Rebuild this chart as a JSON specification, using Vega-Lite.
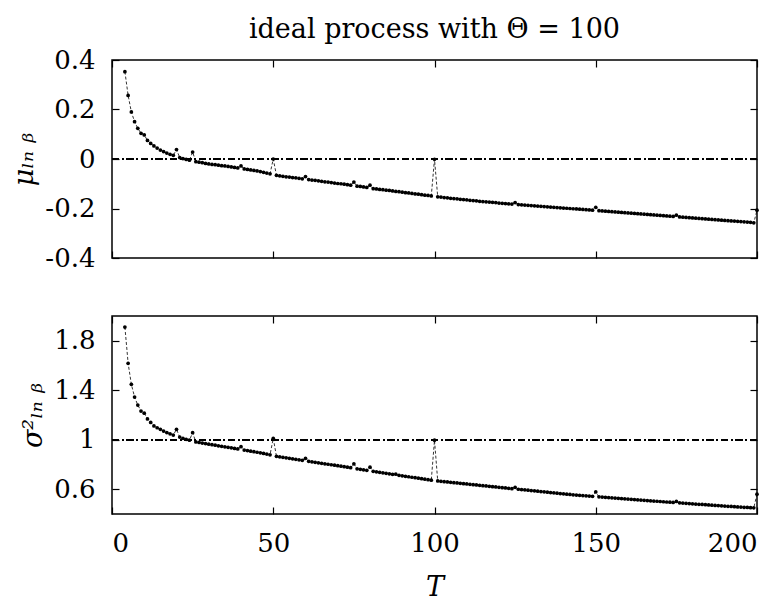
{
  "$schema": "https://vega.github.io/schema/vega-lite/v6.json",
  "background": "white",
  "padding": {"left": 10, "top": 15, "right": 0, "bottom": 0},
  "config": {
    "font": "DejaVu Serif",
    "view": {"stroke": "black", "strokeWidth": 1.5},
    "axis": {"domain": false, "grid": false, "tickColor": "black", "tickSize": -7, "tickWidth": 1.2, "labelFont": "DejaVu Serif", "labelFontSize": 26, "labelColor": "black", "titleFont": "DejaVu Serif", "titleFontSize": 27, "titleFontWeight": "normal", "titleColor": "black"}
  },
  "datasets": {
    "d": [
      {"T":4,"mu":0.353,"s2":1.911},{"T":5,"mu":0.257,"s2":1.618},{"T":6,"mu":0.190,"s2":1.448},{"T":7,"mu":0.151,"s2":1.345},{"T":8,"mu":0.124,"s2":1.280},{"T":9,"mu":0.104,"s2":1.232},{"T":10,"mu":0.097,"s2":1.215},{"T":11,"mu":0.075,"s2":1.168},{"T":12,"mu":0.063,"s2":1.140},{"T":13,"mu":0.053,"s2":1.112},{"T":14,"mu":0.044,"s2":1.097},{"T":15,"mu":0.036,"s2":1.084},{"T":16,"mu":0.030,"s2":1.070},{"T":17,"mu":0.024,"s2":1.058},{"T":18,"mu":0.019,"s2":1.048},{"T":19,"mu":0.015,"s2":1.038},{"T":20,"mu":0.038,"s2":1.084},
      {"T":21,"mu":0.006,"s2":1.022},{"T":22,"mu":0.002,"s2":1.012},{"T":23,"mu":-0.002,"s2":1.004},{"T":24,"mu":-0.005,"s2":0.996},{"T":25,"mu":0.028,"s2":1.057},{"T":26,"mu":-0.011,"s2":0.982},{"T":27,"mu":-0.013,"s2":0.978},{"T":28,"mu":-0.015,"s2":0.973},{"T":29,"mu":-0.018,"s2":0.969},{"T":30,"mu":-0.020,"s2":0.964},{"T":31,"mu":-0.022,"s2":0.960},{"T":32,"mu":-0.023,"s2":0.956},{"T":33,"mu":-0.025,"s2":0.951},{"T":34,"mu":-0.027,"s2":0.947},{"T":35,"mu":-0.028,"s2":0.943},{"T":36,"mu":-0.030,"s2":0.939},{"T":37,"mu":-0.032,"s2":0.935},{"T":38,"mu":-0.034,"s2":0.930},{"T":39,"mu":-0.036,"s2":0.926},{"T":40,"mu":-0.028,"s2":0.944},
      {"T":41,"mu":-0.040,"s2":0.917},{"T":42,"mu":-0.042,"s2":0.913},{"T":43,"mu":-0.044,"s2":0.908},{"T":44,"mu":-0.046,"s2":0.904},{"T":45,"mu":-0.048,"s2":0.899},{"T":46,"mu":-0.051,"s2":0.894},{"T":47,"mu":-0.054,"s2":0.889},{"T":48,"mu":-0.057,"s2":0.884},{"T":49,"mu":-0.060,"s2":0.878},{"T":50,"mu":0.000,"s2":1.012},{"T":51,"mu":-0.066,"s2":0.866},{"T":52,"mu":-0.068,"s2":0.862},{"T":53,"mu":-0.070,"s2":0.858},{"T":54,"mu":-0.072,"s2":0.854},{"T":55,"mu":-0.073,"s2":0.850},{"T":56,"mu":-0.075,"s2":0.846},{"T":57,"mu":-0.076,"s2":0.842},{"T":58,"mu":-0.078,"s2":0.838},{"T":59,"mu":-0.080,"s2":0.834},{"T":60,"mu":-0.071,"s2":0.850},
      {"T":61,"mu":-0.083,"s2":0.826},{"T":62,"mu":-0.085,"s2":0.822},{"T":63,"mu":-0.086,"s2":0.818},{"T":64,"mu":-0.088,"s2":0.814},{"T":65,"mu":-0.090,"s2":0.810},{"T":66,"mu":-0.092,"s2":0.806},{"T":67,"mu":-0.093,"s2":0.802},{"T":68,"mu":-0.095,"s2":0.798},{"T":69,"mu":-0.097,"s2":0.794},{"T":70,"mu":-0.099,"s2":0.790},{"T":71,"mu":-0.100,"s2":0.786},{"T":72,"mu":-0.102,"s2":0.782},{"T":73,"mu":-0.104,"s2":0.778},{"T":74,"mu":-0.106,"s2":0.774},{"T":75,"mu":-0.093,"s2":0.806},{"T":76,"mu":-0.110,"s2":0.765},{"T":77,"mu":-0.111,"s2":0.761},{"T":78,"mu":-0.113,"s2":0.757},{"T":79,"mu":-0.115,"s2":0.753},{"T":80,"mu":-0.106,"s2":0.778},
      {"T":81,"mu":-0.120,"s2":0.745},{"T":82,"mu":-0.121,"s2":0.741},{"T":83,"mu":-0.123,"s2":0.737},{"T":84,"mu":-0.124,"s2":0.733},{"T":85,"mu":-0.126,"s2":0.729},{"T":86,"mu":-0.127,"s2":0.725},{"T":87,"mu":-0.129,"s2":0.721},{"T":88,"mu":-0.131,"s2":0.722},{"T":89,"mu":-0.132,"s2":0.713},{"T":90,"mu":-0.134,"s2":0.709},{"T":91,"mu":-0.136,"s2":0.705},{"T":92,"mu":-0.137,"s2":0.701},{"T":93,"mu":-0.139,"s2":0.697},{"T":94,"mu":-0.141,"s2":0.693},{"T":95,"mu":-0.142,"s2":0.689},{"T":96,"mu":-0.144,"s2":0.685},{"T":97,"mu":-0.146,"s2":0.681},{"T":98,"mu":-0.147,"s2":0.677},{"T":99,"mu":-0.149,"s2":0.673},{"T":100,"mu":-0.001,"s2":0.996},
      {"T":101,"mu":-0.153,"s2":0.667},{"T":102,"mu":-0.154,"s2":0.664},{"T":103,"mu":-0.156,"s2":0.661},{"T":104,"mu":-0.157,"s2":0.659},{"T":105,"mu":-0.159,"s2":0.656},{"T":106,"mu":-0.160,"s2":0.653},{"T":107,"mu":-0.161,"s2":0.651},{"T":108,"mu":-0.163,"s2":0.648},{"T":109,"mu":-0.164,"s2":0.645},{"T":110,"mu":-0.165,"s2":0.643},{"T":111,"mu":-0.167,"s2":0.640},{"T":112,"mu":-0.168,"s2":0.637},{"T":113,"mu":-0.169,"s2":0.635},{"T":114,"mu":-0.171,"s2":0.632},{"T":115,"mu":-0.172,"s2":0.629},{"T":116,"mu":-0.173,"s2":0.627},{"T":117,"mu":-0.174,"s2":0.624},{"T":118,"mu":-0.175,"s2":0.621},{"T":119,"mu":-0.176,"s2":0.619},{"T":120,"mu":-0.178,"s2":0.616},
      {"T":121,"mu":-0.179,"s2":0.613},{"T":122,"mu":-0.180,"s2":0.611},{"T":123,"mu":-0.181,"s2":0.608},{"T":124,"mu":-0.182,"s2":0.605},{"T":125,"mu":-0.176,"s2":0.616},{"T":126,"mu":-0.184,"s2":0.600},{"T":127,"mu":-0.185,"s2":0.597},{"T":128,"mu":-0.186,"s2":0.595},{"T":129,"mu":-0.187,"s2":0.592},{"T":130,"mu":-0.188,"s2":0.589},{"T":131,"mu":-0.189,"s2":0.587},{"T":132,"mu":-0.190,"s2":0.584},{"T":133,"mu":-0.191,"s2":0.581},{"T":134,"mu":-0.192,"s2":0.579},{"T":135,"mu":-0.193,"s2":0.576},{"T":136,"mu":-0.194,"s2":0.573},{"T":137,"mu":-0.195,"s2":0.571},{"T":138,"mu":-0.196,"s2":0.568},{"T":139,"mu":-0.197,"s2":0.565},{"T":140,"mu":-0.198,"s2":0.563},
      {"T":141,"mu":-0.199,"s2":0.560},{"T":142,"mu":-0.200,"s2":0.558},{"T":143,"mu":-0.201,"s2":0.555},{"T":144,"mu":-0.202,"s2":0.553},{"T":145,"mu":-0.203,"s2":0.551},{"T":146,"mu":-0.204,"s2":0.549},{"T":147,"mu":-0.205,"s2":0.547},{"T":148,"mu":-0.206,"s2":0.545},{"T":149,"mu":-0.207,"s2":0.543},{"T":150,"mu":-0.195,"s2":0.578},{"T":151,"mu":-0.209,"s2":0.539},{"T":152,"mu":-0.210,"s2":0.537},{"T":153,"mu":-0.211,"s2":0.535},{"T":154,"mu":-0.212,"s2":0.533},{"T":155,"mu":-0.213,"s2":0.531},{"T":156,"mu":-0.214,"s2":0.529},{"T":157,"mu":-0.215,"s2":0.527},{"T":158,"mu":-0.216,"s2":0.525},{"T":159,"mu":-0.217,"s2":0.523},{"T":160,"mu":-0.218,"s2":0.521},
      {"T":161,"mu":-0.219,"s2":0.519},{"T":162,"mu":-0.220,"s2":0.517},{"T":163,"mu":-0.221,"s2":0.515},{"T":164,"mu":-0.222,"s2":0.513},{"T":165,"mu":-0.223,"s2":0.511},{"T":166,"mu":-0.224,"s2":0.509},{"T":167,"mu":-0.225,"s2":0.507},{"T":168,"mu":-0.226,"s2":0.505},{"T":169,"mu":-0.227,"s2":0.503},{"T":170,"mu":-0.228,"s2":0.501},{"T":171,"mu":-0.229,"s2":0.499},{"T":172,"mu":-0.230,"s2":0.497},{"T":173,"mu":-0.231,"s2":0.495},{"T":174,"mu":-0.232,"s2":0.493},{"T":175,"mu":-0.227,"s2":0.502},{"T":176,"mu":-0.234,"s2":0.490},{"T":177,"mu":-0.235,"s2":0.488},{"T":178,"mu":-0.236,"s2":0.486},{"T":179,"mu":-0.237,"s2":0.484},{"T":180,"mu":-0.238,"s2":0.482},
      {"T":181,"mu":-0.239,"s2":0.480},{"T":182,"mu":-0.240,"s2":0.478},{"T":183,"mu":-0.241,"s2":0.477},{"T":184,"mu":-0.242,"s2":0.475},{"T":185,"mu":-0.243,"s2":0.473},{"T":186,"mu":-0.244,"s2":0.471},{"T":187,"mu":-0.245,"s2":0.469},{"T":188,"mu":-0.246,"s2":0.468},{"T":189,"mu":-0.247,"s2":0.466},{"T":190,"mu":-0.248,"s2":0.464},{"T":191,"mu":-0.249,"s2":0.462},{"T":192,"mu":-0.250,"s2":0.461},{"T":193,"mu":-0.251,"s2":0.459},{"T":194,"mu":-0.252,"s2":0.457},{"T":195,"mu":-0.253,"s2":0.456},{"T":196,"mu":-0.254,"s2":0.454},{"T":197,"mu":-0.255,"s2":0.453},{"T":198,"mu":-0.256,"s2":0.451},{"T":199,"mu":-0.258,"s2":0.450},{"T":200,"mu":-0.207,"s2":0.560}
    ]
  },
  "spacing": 42,
  "vconcat": [
    {
      "width": 645,
      "height": 198,
      "title": {"text": "ideal process with Θ = 100", "anchor": "middle", "frame": "group", "fontSize": 27, "fontWeight": "normal", "font": "DejaVu Serif", "color": "black", "offset": 3},
      "data": {"name": "d"},
      "layer": [
        {
          "mark": {"type": "rule", "color": "black", "strokeWidth": 1, "strokeDash": [7, 3, 1.5, 3]},
          "encoding": {"y": {"datum": 0, "type": "quantitative", "scale": {"domain": [-0.4, 0.4], "nice": false}, "axis": null}}
        },
        {
          "mark": {"type": "line", "color": "black", "strokeWidth": 0.8, "strokeDash": [3, 2]},
          "encoding": {
            "x": {"field": "T", "type": "quantitative", "scale": {"domain": [0, 200], "nice": false}, "axis": {"values": [0, 50, 100, 150, 200], "labels": false, "title": null}},
            "y": {"field": "mu", "type": "quantitative", "scale": {"domain": [-0.4, 0.4], "nice": false}, "axis": {"values": [-0.4, -0.2, 0, 0.2, 0.4], "labelPadding": 24, "titlePadding": 6, "title": "μₗₙ ᵦ", "titleFontStyle": "italic", "labelExpr": "datum.value == 0 ? '0' : replace(format(datum.value, '.1f'), '\u2212', '-')"}}
          }
        },
        {
          "mark": {"type": "point", "filled": true, "color": "black", "size": 14, "opacity": 1},
          "encoding": {
            "x": {"field": "T", "type": "quantitative", "axis": null},
            "y": {"field": "mu", "type": "quantitative", "axis": null}
          }
        },
        {
          "mark": {"type": "line", "opacity": 0},
          "encoding": {
            "x": {"field": "T", "type": "quantitative", "axis": {"orient": "top", "values": [0, 50, 100, 150, 200], "labels": false, "title": null}},
            "y": {"field": "mu", "type": "quantitative", "axis": {"orient": "right", "values": [-0.4, -0.2, 0, 0.2, 0.4], "labels": false, "title": null}}
          }
        }
      ],
      "resolve": {"axis": {"x": "independent", "y": "independent"}}
    },
    {
      "width": 645,
      "height": 198,
      "data": {"name": "d"},
      "layer": [
        {
          "mark": {"type": "rule", "color": "black", "strokeWidth": 1, "strokeDash": [7, 3, 1.5, 3]},
          "encoding": {"y": {"datum": 1, "type": "quantitative", "scale": {"domain": [0.4, 2.0], "nice": false}, "axis": null}}
        },
        {
          "mark": {"type": "line", "color": "black", "strokeWidth": 0.8, "strokeDash": [3, 2]},
          "encoding": {
            "x": {"field": "T", "type": "quantitative", "scale": {"domain": [0, 200], "nice": false}, "axis": {"values": [0, 50, 100, 150, 200], "format": "d", "labelPadding": 23, "title": "T", "titleFontStyle": "italic", "titlePadding": 18}},
            "y": {"field": "s2", "type": "quantitative", "scale": {"domain": [0.4, 2.0], "nice": false}, "axis": {"values": [0.6, 1, 1.4, 1.8], "labelPadding": 24, "titlePadding": 6, "title": "σ²ₗₙ ᵦ", "titleFontStyle": "italic", "labelExpr": "datum.value == 1 ? '1' : format(datum.value, '.1f')"}}
          }
        },
        {
          "mark": {"type": "point", "filled": true, "color": "black", "size": 14, "opacity": 1},
          "encoding": {
            "x": {"field": "T", "type": "quantitative", "axis": null},
            "y": {"field": "s2", "type": "quantitative", "axis": null}
          }
        },
        {
          "mark": {"type": "line", "opacity": 0},
          "encoding": {
            "x": {"field": "T", "type": "quantitative", "axis": {"orient": "top", "values": [0, 50, 100, 150, 200], "labels": false, "title": null}},
            "y": {"field": "s2", "type": "quantitative", "axis": {"orient": "right", "values": [0.6, 1, 1.4, 1.8], "labels": false, "title": null}}
          }
        }
      ],
      "resolve": {"axis": {"x": "independent", "y": "independent"}}
    }
  ]
}
